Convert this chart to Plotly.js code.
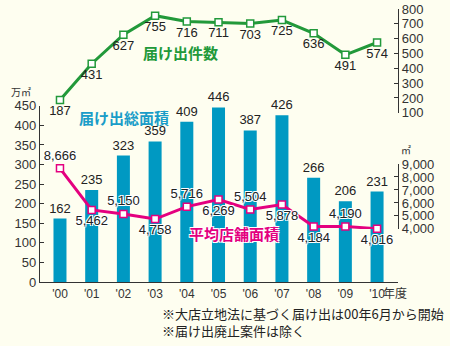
<!DOCTYPE html>
<html><head><meta charset="utf-8">
<script src="https://cdn.plot.ly/plotly-3.0.1.min.js"></script>
<style>html,body{margin:0;padding:0;background:#FEFEF0;}</style>
</head><body><div id="c" style="width:450px;height:346px;"></div>
<script>
const years = ["'00","'01","'02","'03","'04","'05","'06","'07","'08","'09","'10"];
const totalArea = [162,235,323,359,409,446,387,426,266,206,231];
const filings = [187,431,627,755,716,711,703,725,636,491,574];
const avgArea = [8666,5462,5150,4758,5716,6269,5504,5878,4184,4190,4016];
const avgLabelPos = ["top center","bottom center","top center","bottom center","top center","bottom center","top center","bottom center","bottom center","top center","bottom center"];

const idx = years.map((_, i) => i);
const F = "Liberation Sans, Arial, Noto Sans CJK JP, sans-serif";
const J = "Noto Sans CJK JP, sans-serif";
const halo = "1px 1px 0 #fff, -1px -1px 0 #fff, 1px -1px 0 #fff, -1px 1px 0 #fff";
const L=40, R=398, B=282.5, T=9;
const px = v => (v - L) / (R - L);
const py = v => (B - v) / (B - T);

const traces = [
  {type:'bar', x: idx, y: totalArea, text: totalArea.map(String), textposition:'outside', constraintext:'none',
   textfont:{family:F,size:13,color:'#222'}, marker:{color:'#0099C2'}, width:0.41,
   cliponaxis:false, xaxis:'x', yaxis:'y', hoverinfo:'none'},
  {type:'scatter', mode:'lines+markers+text', x: idx, y: filings, text: filings.map(String),
   textposition:'bottom center', textfont:{family:F,size:13,color:'#222'},
   line:{color:'#22993A',width:3}, marker:{symbol:'square',size:7,color:'#fff',line:{color:'#22993A',width:1.5}},
   cliponaxis:false, xaxis:'x', yaxis:'y2', hoverinfo:'none'},
  {type:'scatter', mode:'lines+markers+text', x: idx, y: avgArea, text: avgArea.map(v=>v.toLocaleString('en-US')),
   textposition: avgLabelPos, textfont:{family:F,size:13,color:'#222',shadow:halo},
   line:{color:'#E4007F',width:3}, marker:{symbol:'square',size:7,color:'#fff',line:{color:'#E4007F',width:1.5}},
   cliponaxis:false, xaxis:'x', yaxis:'y3', hoverinfo:'none'}
];

const tickfont = {family:F,size:13,color:'#333'};
const ann = (x, y, text, font, xanchor) => ({xref:'paper', yref:'paper', x:px(x), y:py(y), text, showarrow:false,
  xanchor: xanchor || 'center', yanchor:'middle', font});
const layout = {
  width:450, height:346, paper_bgcolor:'#FEFEF0', plot_bgcolor:'rgba(0,0,0,0)',
  margin:{l:L, r:450-R, t:T, b:346-B}, showlegend:false,
  xaxis:{range:[-0.63,10.66], tickvals: idx, ticktext: years, showline:true, linecolor:'#333', linewidth:1.2,
         ticks:'', tickfont:{family:F,size:12,color:'#333'}, showgrid:false, zeroline:false, fixedrange:true},
  yaxis:{range:[0,450], domain:[0, py(106)], dtick:50, showline:true, linecolor:'#333', linewidth:1.2,
         ticks:'inside', ticklen:4, tickcolor:'#333', tickfont:tickfont, showgrid:false, zeroline:false},
  yaxis2:{range:[100,800], domain:[py(113), 1], dtick:100, side:'right', anchor:'x', showline:true, linecolor:'#333', linewidth:1.2,
         ticks:'inside', ticklen:4, tickcolor:'#333', tickfont:tickfont, showgrid:false, zeroline:false},
  yaxis3:{range:[4000,9000], domain:[py(229.3), py(164.3)], dtick:1000, tickformat:',d', side:'right', anchor:'x', showline:true, linecolor:'#333', linewidth:1.2,
         ticks:'inside', ticklen:4, tickcolor:'#333', tickfont:tickfont, showgrid:false, zeroline:false},
  annotations:[
    ann(180, 53, '<b>届け出件数</b>', {family:J,size:15,color:'#22993A'}),
    ann(124, 118, '<b>届け出総面積</b>', {family:J,size:15,color:'#1A9DC8'}),
    ann(233.5, 234, '<b>平均店舗面積</b>', {family:J,size:15,color:'#E4007F',shadow:halo}),
    ann(21, 92, '万㎡', {family:J,size:10,color:'#333'}),
    ann(406, 150, '㎡', {family:J,size:10,color:'#333'}),
    ann(381, 293, '年度', {family:J,size:12,color:'#333'}, 'left'),
    ann(160, 314, '※大店立地法に基づく届け出は00年6月から開始', {family:J,size:13,color:'#222'}, 'left'),
    ann(160, 331, '※届け出廃止案件は除く', {family:J,size:13,color:'#222'}, 'left')
  ]
};
Plotly.newPlot('c', traces, layout, {staticPlot:true});
</script></body></html>
